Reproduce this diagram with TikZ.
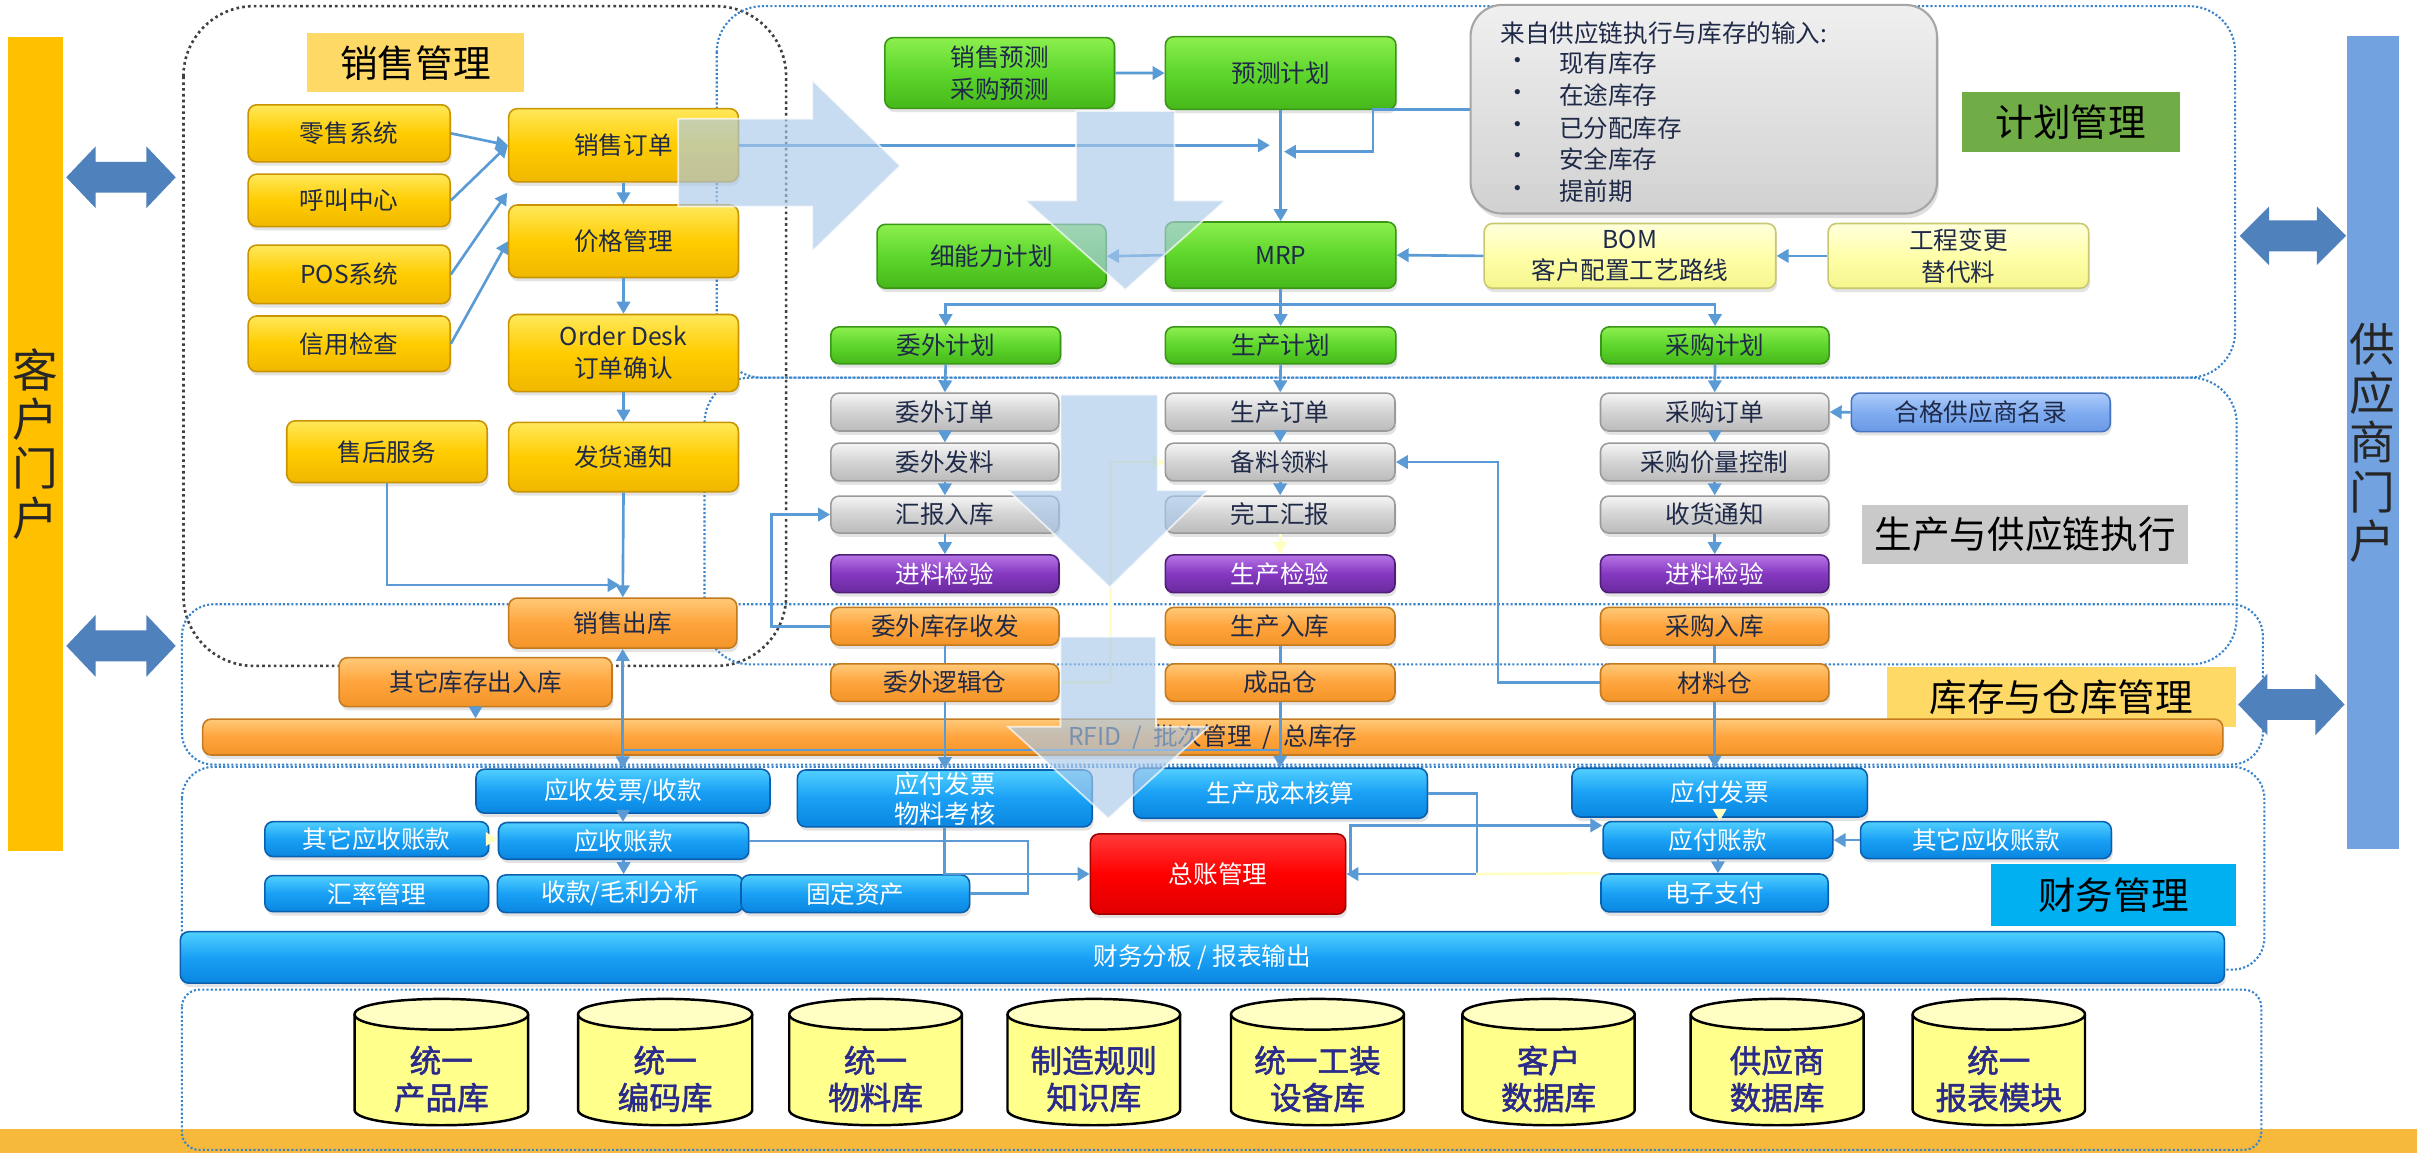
\documentclass[tikz,border=0pt]{standalone}
\usepackage{fontspec}
\setmainfont{Noto Sans CJK SC}[AutoFakeBold=1.6]
\usetikzlibrary{arrows.meta,shadows,calc}
\definecolor{navy}{HTML}{1F2A48}
\definecolor{conn}{HTML}{5B9BD5}
\definecolor{regblue}{HTML}{3A84CC}
\definecolor{faint}{HTML}{FFFFC4}
\definecolor{bigarr}{HTML}{A9C9EA}
\definecolor{yT}{HTML}{FFE85A}\definecolor{yM}{HTML}{FFCC00}\definecolor{yB}{HTML}{F0B800}\definecolor{yD}{HTML}{C99400}
\definecolor{gT}{HTML}{8CEF4E}\definecolor{gM}{HTML}{5ED62C}\definecolor{gB}{HTML}{46B81A}\definecolor{gD}{HTML}{3A9616}
\definecolor{sT}{HTML}{F5F5F5}\definecolor{sM}{HTML}{D3D3D3}\definecolor{sB}{HTML}{BBBBBB}\definecolor{sD}{HTML}{9A9A9A}
\definecolor{pT}{HTML}{B774E6}\definecolor{pM}{HTML}{8438C0}\definecolor{pB}{HTML}{6A2A9E}\definecolor{pD}{HTML}{4E1E78}
\definecolor{oT}{HTML}{FFC978}\definecolor{oM}{HTML}{FFA43C}\definecolor{oB}{HTML}{F2952A}\definecolor{oD}{HTML}{C47A1E}
\definecolor{fT}{HTML}{50CFFF}\definecolor{fM}{HTML}{19A0F5}\definecolor{fB}{HTML}{0A86E0}\definecolor{fD}{HTML}{0A5FAE}
\definecolor{rT}{HTML}{FF3A3A}\definecolor{rM}{HTML}{FF0000}\definecolor{rB}{HTML}{E00000}\definecolor{rD}{HTML}{A00000}
\definecolor{lyT}{HTML}{FFFFDC}\definecolor{lyM}{HTML}{FFFFAA}\definecolor{lyB}{HTML}{F5F58C}\definecolor{lyD}{HTML}{C8C870}
\definecolor{lbT}{HTML}{AECDFA}\definecolor{lbM}{HTML}{80ACF0}\definecolor{lbB}{HTML}{6A9AE6}\definecolor{lbD}{HTML}{4674C0}
\definecolor{labY}{HTML}{FFD966}
\definecolor{labG}{HTML}{70AD47}
\definecolor{labS}{HTML}{C9C9C9}
\definecolor{labC}{HTML}{00B0F0}
\definecolor{portY}{HTML}{FFC000}
\definecolor{portB}{HTML}{72A2E0}
\definecolor{dblA}{HTML}{4F81BD}
\definecolor{strip}{HTML}{F6B93B}
\definecolor{dbBody}{HTML}{FFFF8C}
\definecolor{dbTop}{HTML}{FFFFC4}
\definecolor{dbText}{HTML}{2A2A8A}
\tikzset{
  bx/.style={rounded corners=2.4pt, inner sep=0pt, line width=0.45pt, align=center,
     font=\fontsize{7}{9}\selectfont,
     drop shadow={shadow xshift=0.4pt, shadow yshift=-1.1pt, opacity=0.22}},
  ybx/.style={bx, top color=yT, bottom color=yB, middle color=yM, draw=yD, text=navy},
  gbx/.style={bx, top color=gT, bottom color=gB, middle color=gM, draw=gD, text=navy},
  sbx/.style={bx, top color=sT, bottom color=sB, middle color=sM, draw=sD, text=navy},
  pbx/.style={bx, top color=pT, bottom color=pB, middle color=pM, draw=pD, text=white},
  obx/.style={bx, top color=oT, bottom color=oB, middle color=oM, draw=oD, text=navy},
  fbx/.style={bx, top color=fT, bottom color=fB, middle color=fM, draw=fD, text=white},
  rbx/.style={bx, top color=rT, bottom color=rB, middle color=rM, draw=rD, text=white},
  lybx/.style={bx, top color=lyT, bottom color=lyB, middle color=lyM, draw=lyD, text=navy},
  lbbx/.style={bx, top color=lbT, bottom color=lbB, middle color=lbM, draw=lbD, text=navy},
  lab/.style={inner sep=0pt, font=\fontsize{10.7}{12}\selectfont, text=black},
  reg/.style={draw=regblue, line width=0.6pt, dash pattern=on 0.6pt off 0.6pt},
  sreg/.style={draw=black!75, line width=0.75pt, dash pattern=on 0.75pt off 0.9pt},
  ln/.style={draw=conn, line width=0.75pt},
  arr/.style={ln, -{Triangle[length=3.4pt,width=3.8pt]}},
  darr/.style={ln, {Triangle[length=3.4pt,width=3.8pt]}-{Triangle[length=3.4pt,width=3.8pt]}},
  fln/.style={draw=faint, line width=0.75pt},
  farr/.style={fln, -{Triangle[length=3.4pt,width=3.8pt]}},
  dblarrow/.style={fill=dblA},
  big/.style={fill=bigarr, fill opacity=0.65, draw=white, draw opacity=0.7, line width=0.5pt},
  ctext/.style={inner sep=0pt, font=\fontsize{7}{9}\selectfont, text=navy},
  dbtext/.style={inner sep=0pt, align=center, font=\fontsize{9}{10.5}\selectfont\bfseries, text=dbText},
  portal/.style={inner sep=0pt, align=center, font=\fontsize{13}{14}\selectfont}
}
\newcommand\bx[7]{\node[#1, minimum width={(#4-#2)*0.015415cm}, minimum height={(#5-#3)*0.015415cm}] (#6) at ({(#2+#4)/2},{(#3+#5)/2}) {#7};}
\newcommand\dbcyl[4]{%
  \fill[dbBody] (#1,658) -- (#1,720) .. controls (#1,733.3) and (#2,733.3) .. (#2,720) -- (#2,658) -- cycle;
  \draw[black, line width=0.7pt] (#1,658) -- (#1,720) .. controls (#1,733.3) and (#2,733.3) .. (#2,720) -- (#2,658);
  \filldraw[fill=dbTop, draw=black, line width=0.7pt] (#1,658) .. controls (#1,644.7) and (#2,644.7) .. (#2,658) .. controls (#2,671.3) and (#1,671.3) .. (#1,658) -- cycle;
  \node[dbtext] (#3) at ({(#1+#2)/2},700) {#4};}
\begin{document}
\begin{tikzpicture}[x=0.015415cm,y=-0.015415cm]
\useasboundingbox (0,0) rectangle (1568,748);
\fill[white] (0,0) rectangle (1568,748);
% bottom strip
\fill[strip] (0,732.5) rectangle (1568,748);
% regions
\draw[sreg, rounded corners=20pt] (119,4) rectangle (510,432);
\draw[reg, rounded corners=13pt] (465,4) rectangle (1450,245);
\draw[reg, rounded corners=13pt] (457,245) rectangle (1451,431);
\draw[reg, rounded corners=9pt] (118,392) rectangle (1468,496);
\draw[reg, rounded corners=9pt] (118,497.5) rectangle (1469,629);
\draw[reg, rounded corners=5pt] (118,642) rectangle (1467,746);
% portals
\bx{portal, fill=portY, text=black!85}{5}{24}{41}{552}{khmh}{客\\户\\门\\户}
\bx{portal, fill=portB, text=black!85}{1522.6}{23.4}{1556}{551}{gysmh}{供\\应\\商\\门\\户}
\fill[dblarrow] (43,115) -- (62,95) -- (62,105) -- (95,105) -- (95,95) -- (114,115) -- (95,135) -- (95,125) -- (62,125) -- (62,135) -- cycle;
\fill[dblarrow] (43,419) -- (62,399) -- (62,409) -- (95,409) -- (95,399) -- (114,419) -- (95,439) -- (95,429) -- (62,429) -- (62,439) -- cycle;
\fill[dblarrow] (1453,153) -- (1472,134) -- (1472,143) -- (1503,143) -- (1503,134) -- (1522,153) -- (1503,172) -- (1503,163) -- (1472,163) -- (1472,172) -- cycle;
\fill[dblarrow] (1452,457) -- (1471,437) -- (1471,447) -- (1502,447) -- (1502,437) -- (1521,457) -- (1502,477) -- (1502,467) -- (1471,467) -- (1471,477) -- cycle;
% labels
\bx{lab, fill=labY}{199}{21.5}{340}{60}{lsales}{销售管理}
\bx{lab, fill=labG}{1273}{60}{1414}{98.5}{lplan}{计划管理}
\bx{lab, fill=labS}{1208}{327.6}{1419.6}{366}{lexec}{生产与供应链执行}
\bx{lab, fill=labY}{1224}{433}{1450.6}{471.6}{linv}{库存与仓库管理}
\bx{lab, fill=labC}{1291.6}{560.5}{1450.6}{600.6}{lfin}{财务管理}
% sales boxes
\bx{ybx}{161}{68}{292}{105}{rs}{零售系统}
\bx{ybx}{161}{113}{292}{147}{hj}{呼叫中心}
\bx{ybx}{161}{159}{292}{197}{pos}{POS系统}
\bx{ybx}{161}{205}{292}{241}{xy}{信用检查}
\bx{ybx}{330}{70.5}{479}{118}{xsdd}{销售订单}
\bx{ybx}{330}{133}{479}{180}{jg}{价格管理}
\bx{ybx}{330}{204}{479}{254}{od}{Order Desk\\订单确认}
\bx{ybx}{330}{274}{479}{319}{fh}{发货通知}
\bx{ybx}{186}{273}{316}{313}{sh}{售后服务}
\bx{obx}{330}{388}{478}{420.5}{xsck}{销售出库}
\bx{obx}{220}{426.6}{397}{458.4}{qt}{其它库存出入库}
\bx{obx}{131.5}{466.5}{1442}{489.8}{rfid}{RFID\ \ /\ \ 批次管理\ \ /\ \ 总库存}
% planning
\bx{rounded corners=9pt, top color=black!6, bottom color=black!18, draw=black!35, line width=0.6pt, drop shadow={shadow xshift=0.5pt, shadow yshift=-1.3pt, opacity=0.25}, inner sep=0pt}{954}{3.2}{1256.6}{138.5}{callout}{}
\node[ctext, anchor=west] (ct0) at (973,21.6) {来自供应链执行与库存的输入:};
\node[ctext, anchor=west] (cb1) at (976.5,41) {•};
\node[ctext, anchor=west] (ci1) at (1011,41) {现有库存};
\node[ctext, anchor=west] (cb2) at (976.5,62) {•};
\node[ctext, anchor=west] (ci2) at (1011,62) {在途库存};
\node[ctext, anchor=west] (cb3) at (976.5,83) {•};
\node[ctext, anchor=west] (ci3) at (1011,83) {已分配库存};
\node[ctext, anchor=west] (cb4) at (976.5,103) {•};
\node[ctext, anchor=west] (ci4) at (1011,103) {安全库存};
\node[ctext, anchor=west] (cb5) at (976.5,124) {•};
\node[ctext, anchor=west] (ci5) at (1011,124) {提前期};
\bx{gbx}{574}{24.4}{723}{70.3}{xsyc}{销售预测\\采购预测}
\bx{gbx}{756}{23.8}{905.6}{71}{ycjh}{预测计划}
\bx{gbx}{569}{145.5}{717.6}{187}{xnl}{细能力计划}
\bx{gbx}{756}{144}{905.6}{187}{mrp}{MRP}
\bx{gbx}{539}{212}{688}{236}{wwjh}{委外计划}
\bx{gbx}{756}{212}{905.6}{236}{scjh}{生产计划}
\bx{gbx}{1038.6}{212}{1186.6}{236}{cgjh}{采购计划}
\bx{lybx}{962.8}{145}{1152}{187}{bom}{BOM\\客户配置工艺路线}
\bx{lybx}{1186}{145}{1355}{187}{gcbg}{工程变更\\替代料}
% execution
\bx{sbx}{539}{255}{687}{279.6}{wwdd}{委外订单}
\bx{sbx}{539}{287.5}{687}{312}{wwfl}{委外发料}
\bx{sbx}{539}{321.8}{687}{345.8}{hbrk}{汇报入库}
\bx{pbx}{539}{360}{687}{384.5}{jya}{进料检验}
\bx{obx}{539}{394}{687}{418.5}{wwkc}{委外库存收发}
\bx{obx}{539}{430.7}{687}{455}{wwlj}{委外逻辑仓}
\bx{sbx}{756}{255}{905}{279.6}{scdd}{生产订单}
\bx{sbx}{756}{287.5}{905}{312}{blll}{备料领料}
\bx{sbx}{756}{321.8}{905}{345.8}{wghb}{完工汇报}
\bx{pbx}{756}{360}{905}{384.5}{scjy}{生产检验}
\bx{obx}{756}{394}{905}{418.5}{scrk}{生产入库}
\bx{obx}{756}{430.7}{905}{455}{cpc}{成品仓}
\bx{sbx}{1038.3}{255}{1186.5}{279.6}{cgdd}{采购订单}
\bx{sbx}{1038.3}{287.5}{1186.5}{312}{cgjl}{采购价量控制}
\bx{sbx}{1038.3}{321.8}{1186.5}{345.8}{shtz}{收货通知}
\bx{pbx}{1038.3}{360}{1186.5}{384.5}{jyb}{进料检验}
\bx{obx}{1038.3}{394}{1186.5}{418.5}{cgrk}{采购入库}
\bx{obx}{1038.3}{430.7}{1186.5}{455}{clc}{材料仓}
\bx{lbbx}{1201}{255}{1369}{280}{hgs}{合格供应商名录}
% finance
\bx{fbx}{308.8}{499}{499.5}{527.5}{ysfp}{应收发票/收款}
\bx{fbx,font=\fontsize{7.2}{8.6}\selectfont}{517.3}{499.5}{708.5}{536.4}{yffpa}{应付发票\\物料考核}
\bx{fbx}{735.4}{498.4}{926}{530.8}{sccb}{生产成本核算}
\bx{fbx}{1019.8}{498.4}{1211.4}{530}{yffpb}{应付发票}
\bx{fbx}{171.8}{533}{317}{555.7}{qtysa}{其它应收账款}
\bx{fbx}{323.4}{533.6}{485.7}{557.4}{yszk}{应收账款}
\bx{fbx}{171.8}{568}{317}{591.4}{hl}{汇率管理}
\bx{fbx}{322.7}{567.6}{482}{592}{sk}{收款/毛利分析}
\bx{fbx}{480.7}{567.6}{629}{592}{gdzc}{固定资产}
\bx{rbx}{707.4}{541}{873}{593}{zz}{总账管理}
\bx{fbx}{1040}{533}{1189}{557}{yfzk}{应付账款}
\bx{fbx}{1207}{533}{1369.7}{557}{qtysb}{其它应收账款}
\bx{fbx}{1038.6}{567}{1186}{591.6}{dzzf}{电子支付}
\bx{fbx}{117}{604.4}{1443}{637.8}{cwbar}{财务分板 / 报表输出}
% databases
\dbcyl{230}{342.6}{dba}{统一\\产品库}
\dbcyl{375}{488}{dbb}{统一\\编码库}
\dbcyl{512}{624}{dbc}{统一\\物料库}
\dbcyl{653.6}{765.6}{dbd}{制造规则\\知识库}
\dbcyl{798.6}{910.8}{dbe}{统一工装\\设备库}
\dbcyl{948.7}{1060.5}{dbf}{客户\\数据库}
\dbcyl{1096.8}{1209}{dbg}{供应商\\数据库}
\dbcyl{1240.8}{1352.6}{dbh}{统一\\报表模块}
% connectors: sales
\coordinate (posend) at (329,125);
\draw[arr] (rs.east) -- (xsdd.west);
\draw[arr] (hj.east) -- (xsdd.west);
\draw[arr] (pos.east) -- (posend);
\draw[arr] (xy.east) -- (jg.west);
\draw[arr] (xsdd.south) -- (jg.north);
\draw[arr] (jg.south) -- (od.north);
\draw[arr] (od.south) -- (fh.north);
\draw[arr] (fh.south) -- (xsck.north);
\draw[arr] (sh.south) |- ($(xsck.north)+(-2,-8)$);
% planning
\coordinate (cin) at (833,98.4);
\coordinate (cbend) at (890.7,98.4);
\coordinate (dist) at (830.8,197.5);
\draw[arr] (xsyc.east) -- (ycjh.west);
\draw[arr] (xsdd.east) -- ($(xsdd.east -| mrp.north)+(-7,0)$);
\draw[arr] (ycjh.south) -- (mrp.north);
\draw[arr] (callout.west) -| (cbend) -- (cin);
\draw[arr] (mrp.west) -- (xnl.east);
\draw[arr] (bom.west) -- (mrp.east);
\draw[arr] (gcbg.west) -- (bom.east);
\draw[ln] (mrp.south) -- (dist);
\draw[arr] (dist) -| (wwjh.north);
\draw[arr] (dist) -- (scjh.north);
\draw[arr] (dist) -| (cgjh.north);
\draw[arr] (wwjh.south) -- (wwdd.north);
\draw[arr] (scjh.south) -- (scdd.north);
\draw[arr] (cgjh.south) -- (cgdd.north);
% execution
\draw[arr] (wwdd.south) -- (wwfl.north);
\draw[arr] (wwfl.south) -- (hbrk.north);
\draw[arr] (hbrk.south) -- (jya.north);
\draw[arr] (scdd.south) -- (blll.north);
\draw[arr] (blll.south) -- (wghb.north);
\draw[farr] (wghb.south) -- (scjy.north);
\draw[arr] (cgdd.south) -- (cgjl.north);
\draw[arr] (cgjl.south) -- (shtz.north);
\draw[arr] (shtz.south) -- (jyb.north);
\draw[arr] (hgs.west) -- (cgdd.east);
\draw[arr] (wwkc.west) -- ++(-38,0) |- (hbrk.west);
\draw[ln] (wwkc.south) -- (wwlj.north);
\draw[ln] (scrk.south) -- (cpc.north);
\draw[ln] (cgrk.south) -- (clc.north);
\draw[farr] (wwlj.east) -- ++(33,0) |- (blll.west);
\draw[arr] (clc.west) -- ++(-66,0) |- (blll.east);
% inventory -> finance
\coordinate (ja) at (830.5,486.5);
\coordinate (jb) at (404.3,486.5);
\draw[ln] (ja) -- (jb);
\draw[arr] (qt.south) -- (qt.south |- rfid.north);
\draw[darr] (xsck.south) -- (xsck.south |- ysfp.north);
\draw[arr] (wwlj.south) -- (wwlj.south |- yffpa.north);
\draw[arr] (cpc.south) -- (cpc.south |- sccb.north);
\draw[arr] (clc.south) -- (clc.south |- yffpb.north);
% finance
\coordinate (ka) at (667,579.8);
\coordinate (kb) at (876,567);
\coordinate (kc) at (957.6,567);
\draw[arr] (ysfp.south) -- (ysfp.south |- yszk.north);
\draw[arr] (yszk.south) -- (yszk.south |- sk.north);
\draw[farr] (qtysa.east) -- (yszk.west |- qtysa.east);
\draw[ln] (yszk.east) -| (ka) -- (gdzc.east);
\draw[arr] (yffpa.south) |- (zz.west);
\draw[arr] (sccb.east) -- ++(31.6,0) |- (zz.east);
\draw[arr] (kb) |- ($(yfzk.north west)+(0,3)$);
\draw[fln] (kc) -- (dzzf.north west);
\draw[farr] (yffpb.south) -- (yffpb.south |- yfzk.north);
\draw[arr] (qtysb.west) -- (yfzk.east);
\draw[arr] (yfzk.south) -- (yfzk.south |- dzzf.north);
% big translucent arrows
\path[big] (440,77) -- (527,77) -- (527,52) -- (584,107.5) -- (527,163) -- (527,134) -- (440,134) -- cycle;
\path[big] (698,72) -- (762,72) -- (762,130) -- (795,130) -- (730,188) -- (665,130) -- (698,130) -- cycle;
\path[big] (688,256) -- (751,256) -- (751,318) -- (784,318) -- (720,381) -- (654,318) -- (688,318) -- cycle;
\path[big] (688,413) -- (750,413) -- (750,471.5) -- (784,471.5) -- (719,531) -- (654,471.5) -- (688,471.5) -- cycle;
\end{tikzpicture}
\end{document}
